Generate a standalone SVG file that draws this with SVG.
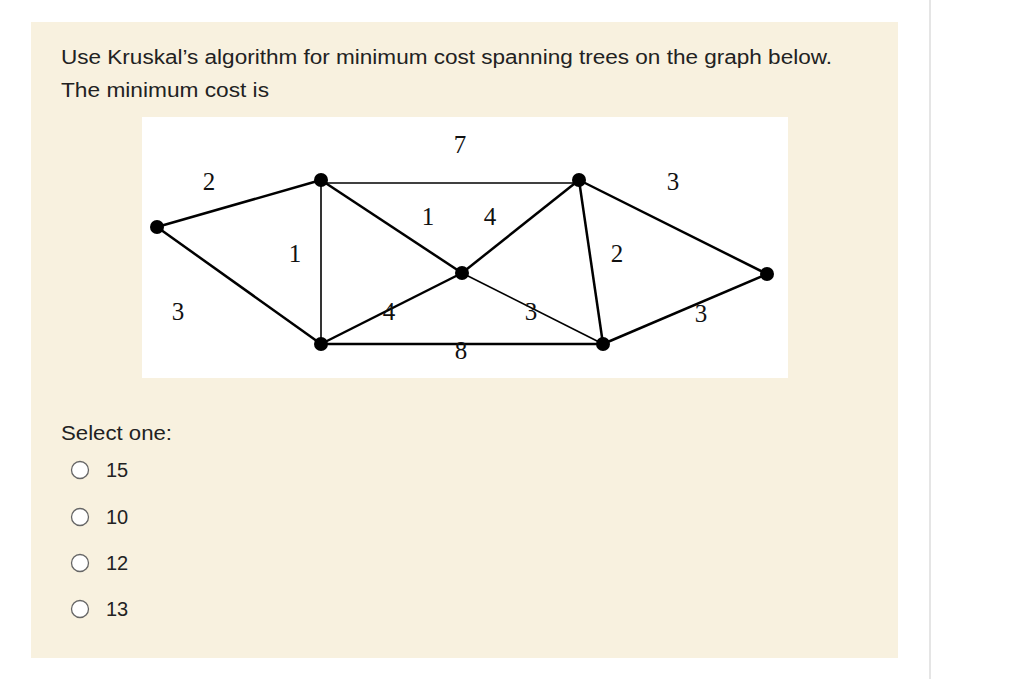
<svg xmlns="http://www.w3.org/2000/svg" width="1024" height="679" viewBox="0 0 1024 679">
<style>
.t{font-family:"Liberation Sans",Arial,sans-serif;font-size:20px;fill:#222}
.w{font-family:"Liberation Serif","Times New Roman",serif;font-size:25px;fill:#111;text-anchor:middle}
.e{stroke:#000;stroke-width:2.5;fill:none}
.e2{stroke:#000;stroke-width:1.6;fill:none}
.n{fill:#000}
.r{fill:#fff;stroke:#666;stroke-width:1.3}
</style>
<rect width="1024" height="679" fill="#fff"/>
<line x1="930" y1="0" x2="930" y2="679" stroke="#ddd" stroke-width="1.5"/>
<rect x="31" y="22" width="867" height="636" fill="#f8f1df"/>
<text class="t" x="61" y="64" textLength="771" lengthAdjust="spacingAndGlyphs">Use Kruskal’s algorithm for minimum cost spanning trees on the graph below.</text>
<text class="t" x="61" y="97" textLength="208" lengthAdjust="spacingAndGlyphs">The minimum cost is</text>
<rect x="142" y="117" width="646" height="261" fill="#fff"/>
<g id="edges">
<line class="e" x1="157" y1="227" x2="321" y2="180"/>
<line class="e" x1="157" y1="227" x2="321" y2="344"/>
<line class="e2" x1="321" y1="180" x2="321" y2="344"/>
<line class="e2" x1="321" y1="183" x2="579" y2="183"/>
<line class="e" x1="321" y1="180" x2="462" y2="273"/>
<line class="e" x1="579" y1="180" x2="462" y2="273"/>
<line class="e" x1="321" y1="344" x2="462" y2="273"/>
<line class="e2" x1="462" y1="273" x2="603" y2="344"/>
<line class="e" x1="321" y1="344" x2="603" y2="344"/>
<line class="e" x1="579" y1="180" x2="603" y2="344"/>
<line class="e" x1="579" y1="180" x2="767" y2="274"/>
<line class="e" x1="603" y1="344" x2="767" y2="274"/>
</g>
<g id="nA"><circle class="n" cx="157" cy="227" r="7"/></g>
<g id="nB"><circle class="n" cx="321" cy="180" r="7"/></g>
<g id="nC"><circle class="n" cx="579" cy="180" r="7"/></g>
<g id="nD"><circle class="n" cx="462" cy="273" r="7"/></g>
<g id="nE"><circle class="n" cx="321" cy="344" r="7"/></g>
<g id="nF"><circle class="n" cx="603" cy="344" r="7"/></g>
<g id="nG"><circle class="n" cx="767" cy="274" r="7"/></g>
<g id="labels">
<text class="w" x="209" y="190">2</text>
<text class="w" x="460" y="153">7</text>
<text class="w" x="673" y="190">3</text>
<text class="w" x="428" y="225">1</text>
<text class="w" x="490" y="225">4</text>
<text class="w" x="295" y="262">1</text>
<text class="w" x="617" y="262">2</text>
<text class="w" x="178" y="320">3</text>
<text class="w" x="389" y="320">4</text>
<text class="w" x="531" y="320">3</text>
<text class="w" x="701" y="322">3</text>
<text class="w" x="461" y="359">8</text>
</g>
<text class="t" x="61" y="440" textLength="111" lengthAdjust="spacingAndGlyphs">Select one:</text>
<g id="opts">
<circle class="r" cx="80" cy="470" r="8.5"/><text class="t" x="106" y="477">15</text>
<circle class="r" cx="80" cy="517" r="8.5"/><text class="t" x="106" y="524">10</text>
<circle class="r" cx="80" cy="563" r="8.5"/><text class="t" x="106" y="570">12</text>
<circle class="r" cx="80" cy="609" r="8.5"/><text class="t" x="106" y="616">13</text>
</g>
</svg>
